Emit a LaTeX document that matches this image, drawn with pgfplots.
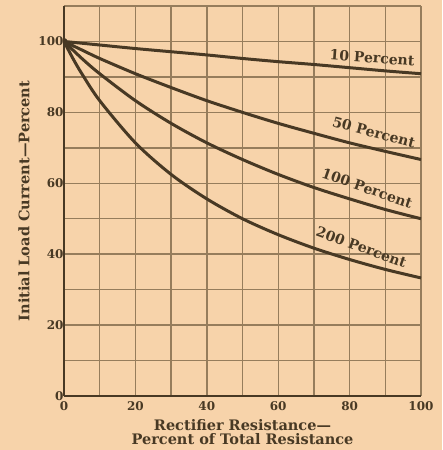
\documentclass[border=0pt]{standalone}
\usepackage{pgfplots}
\pgfplotsset{compat=1.18}
\usepackage{fontspec}
\setmainfont{DejaVu Serif}
\usetikzlibrary{backgrounds}

\definecolor{paper}{RGB}{247,211,170}
\definecolor{ink}{RGB}{72,57,36}
\definecolor{gridc}{RGB}{150,125,92}

\begin{document}
\begin{tikzpicture}
\begin{axis}[
    name=ax,
    scale only axis,
    width=357pt, height=390pt,
    xmin=0, xmax=100, ymin=0, ymax=110,
    xtick={0,20,...,100}, ytick={0,20,...,100},
    minor xtick={10,30,...,90},
    minor ytick={10,30,...,110},
    grid=both,
    grid style={gridc, line width=1.4pt},
    minor grid style={gridc, line width=1.4pt},
    major tick length=0pt, minor tick length=0pt,
    axis x line=bottom, axis y line=left,
    axis line style={ink, line width=2pt, -},
    ticklabel style={font=\fontsize{12}{12}\selectfont\bfseries, text=ink},
    /pgf/number format/assume math mode=true,
    xticklabel style={yshift=-2pt},
    yticklabel style={xshift=3pt},
    xlabel={Rectifier Resistance---\\Percent of Total Resistance},
    xlabel style={align=center, font=\fontsize{14.5}{14.5}\selectfont\bfseries, text=ink, yshift=-2pt},
    ylabel={Initial Load Current---Percent},
    ylabel style={font=\fontsize{14.5}{14.5}\selectfont\bfseries, text=ink, yshift=2pt},
    curve/.style={ink, line width=3pt, smooth, no markers},
]
% 10 percent
\addplot[curve] coordinates {(0,100) (5,99.5) (10,99.0) (20,98.0) (30,97.1) (40,96.2) (50,95.2) (60,94.3) (70,93.5) (80,92.6) (90,91.7) (100,90.9)};
% 50 percent
\addplot[curve] coordinates {(0,100) (5,97.6) (10,95.2) (20,90.9) (30,87.0) (40,83.3) (50,80.0) (60,76.9) (70,74.1) (80,71.4) (90,69.0) (100,66.7)};
% 100 percent
\addplot[curve] coordinates {(0,100) (5,95.2) (10,90.9) (20,83.3) (30,76.9) (40,71.4) (50,66.7) (60,62.5) (70,58.8) (80,55.6) (90,52.6) (100,50.0)};
% 200 percent
\addplot[curve] coordinates {(0,100) (2.5,95.2) (5,90.9) (10,83.3) (20,71.4) (30,62.5) (40,55.6) (50,50.0) (60,45.5) (70,41.7) (80,38.5) (90,35.7) (100,33.3)};

\fill[ink] (axis cs:0,100) circle (3.5pt);
\begin{scope}[font=\fontsize{14}{14}\selectfont\bfseries, text=ink]
\node[rotate=-4] at (axis cs:86.3,95.4) {10 Percent};
\node[rotate=-15] at (axis cs:86.8,74.4) {50 Percent};
\node[rotate=-19] at (axis cs:84.9,58.6) {100 Percent};
\node[rotate=-20] at (axis cs:83.3,42.0) {200 Percent};
\end{scope}
\end{axis}
\pgfresetboundingbox
\path ([shift={(-64pt,-54pt)}]ax.south west) rectangle ([shift={(21pt,6pt)}]ax.north east);
\begin{scope}[on background layer]
\fill[paper] ([shift={(-64pt,-54pt)}]ax.south west) rectangle ([shift={(21pt,6pt)}]ax.north east);
\end{scope}
\end{tikzpicture}
\end{document}
